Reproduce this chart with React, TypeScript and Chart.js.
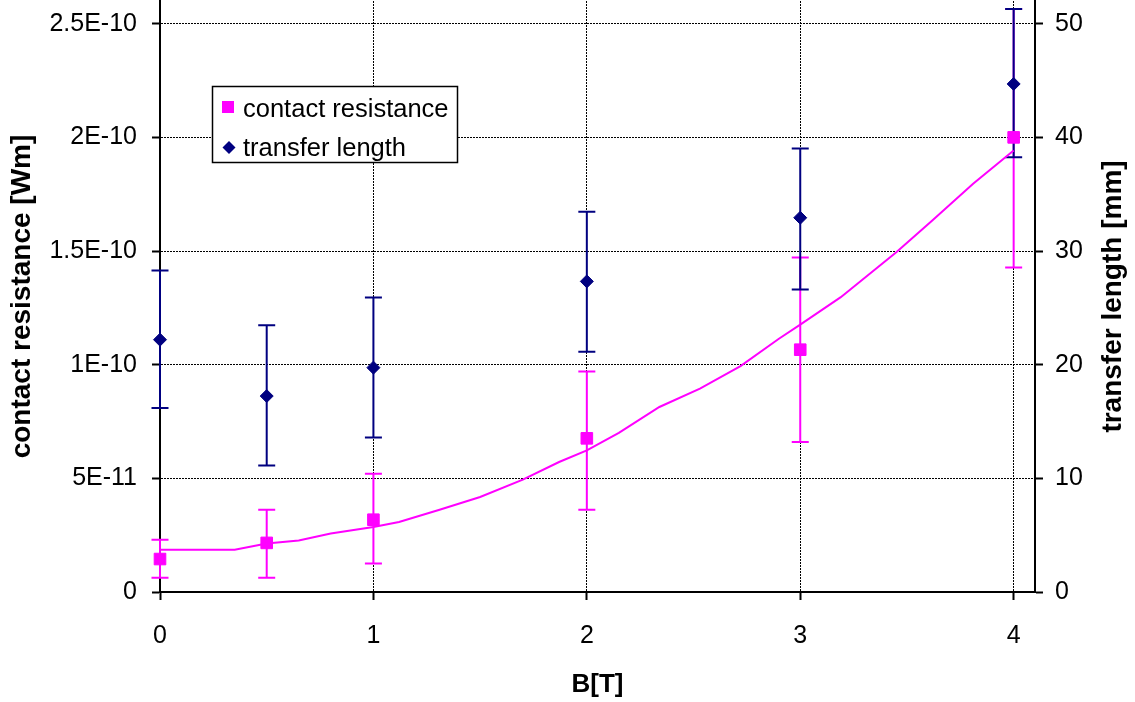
import React, { useEffect, useRef } from 'react';
import { Chart, registerables } from 'chart.js';

Chart.register(...registerables);

// ---- data ----
const bField = [0, 0.5, 1, 2, 3, 4];

const contactResistance = [1.45e-11, 2.16e-11, 3.18e-11, 6.76e-11, 1.066e-10, 2.0e-10];
const crErrPlus = [0.85e-11, 1.46e-11, 2.02e-11, 2.94e-11, 4.06e-11, 5.65e-11];
const crErrMinus = [0.82e-11, 1.53e-11, 1.93e-11, 3.14e-11, 4.06e-11, 5.72e-11];

const transferLength = [22.2, 17.24, 19.74, 27.33, 32.93, 44.7];
const tlErrPlus = [6.09, 6.22, 6.18, 6.13, 6.09, 6.6];
const tlErrMinus = [6.0, 6.12, 6.14, 6.19, 6.31, 6.44];

const fitB = [0, 0.35, 0.5, 0.65, 0.8, 1.0, 1.12, 1.31, 1.5, 1.7, 1.87, 2.0, 2.15, 2.34, 2.53, 2.72, 2.9, 3.0, 3.19, 3.45, 3.62, 3.81, 4.0];
const fitResistance = [
  1.86e-11, 1.86e-11, 2.13e-11, 2.27e-11, 2.57e-11, 2.86e-11, 3.08e-11, 3.62e-11, 4.18e-11, 4.94e-11,
  5.72e-11, 6.23e-11, 7.0e-11, 8.14e-11, 8.95e-11, 9.94e-11, 11.14e-11, 11.76e-11, 12.97e-11,
  14.95e-11, 16.35e-11, 17.96e-11, 19.42e-11,
];

const xTickValues = [0, 1, 2, 3, 4];
const xTickLabels = ['0', '1', '2', '3', '4'];
const leftTickValues = [0, 5e-11, 1e-10, 1.5e-10, 2e-10, 2.5e-10];
const leftTickLabels = ['0', '5E-11', '1E-10', '1.5E-10', '2E-10', '2.5E-10'];
const rightTickValues = [0, 10, 20, 30, 40, 50];
const rightTickLabels = ['0', '10', '20', '30', '40', '50'];

const seriesNames = ['contact resistance', 'transfer length'];
const xTitle = 'B[T]';
const leftTitle = 'contact resistance [Wm]';
const rightTitle = 'transfer length [mm]';

// ---- styles ----
const MAGENTA = '#FF00FF';
const NAVY = '#000080';
const FONT = '"Liberation Sans", Arial, sans-serif';

const errorBarPlugin = {
  id: 'errorBars',
  beforeDatasetsDraw(chart: any) {
    const { ctx } = chart;
    const xs = chart.scales.x;
    const draw = (vals: number[], plus: number[], minus: number[], scale: any, color: string) => {
      ctx.save();
      ctx.strokeStyle = color;
      ctx.lineWidth = 2;
      bField.forEach((b, i) => {
        const px = xs.getPixelForValue(b);
        const top = scale.getPixelForValue(vals[i] + plus[i]);
        const bot = scale.getPixelForValue(vals[i] - minus[i]);
        ctx.beginPath();
        ctx.moveTo(px, top);
        ctx.lineTo(px, bot);
        ctx.moveTo(px - 8.5, top);
        ctx.lineTo(px + 8.5, top);
        ctx.moveTo(px - 8.5, bot);
        ctx.lineTo(px + 8.5, bot);
        ctx.stroke();
      });
      ctx.restore();
    };
    draw(contactResistance, crErrPlus, crErrMinus, chart.scales.y, MAGENTA);
    draw(transferLength, tlErrPlus, tlErrMinus, chart.scales.y1, NAVY);
  },
};

const overlayPlugin = {
  id: 'overlay',
  afterDraw(chart: any) {
    const { ctx, chartArea } = chart;
    ctx.save();
    // right axis title (reads bottom to top)
    ctx.font = `bold 28px ${FONT}`;
    ctx.fillStyle = '#000';
    ctx.textAlign = 'center';
    ctx.textBaseline = 'middle';
    ctx.translate(1113, (chartArea.top + chartArea.bottom) / 2);
    ctx.rotate(-Math.PI / 2);
    ctx.fillText(rightTitle, 0, 0);
    ctx.restore();

    // legend
    ctx.save();
    ctx.fillStyle = '#fff';
    ctx.fillRect(212.5, 86.5, 245, 76);
    ctx.strokeStyle = '#000';
    ctx.lineWidth = 1.5;
    ctx.strokeRect(212.5, 86.5, 245, 76);
    ctx.fillStyle = MAGENTA;
    ctx.fillRect(222, 101, 12, 12);
    ctx.fillStyle = NAVY;
    ctx.beginPath();
    ctx.moveTo(229, 141);
    ctx.lineTo(235.5, 147.5);
    ctx.lineTo(229, 154);
    ctx.lineTo(222.5, 147.5);
    ctx.closePath();
    ctx.fill();
    ctx.fillStyle = '#000';
    ctx.font = `25.5px ${FONT}`;
    ctx.textAlign = 'left';
    ctx.textBaseline = 'middle';
    ctx.fillText(seriesNames[0], 243, 110);
    ctx.fillText(seriesNames[1], 243, 149);
    ctx.restore();
  },
};

export default function App() {
  const ref = useRef<HTMLCanvasElement>(null);

  useEffect(() => {
    const tickFont = { family: FONT, size: 25 };
    const gridCommon = {
      color: '#000',
      lineWidth: 1,
      tickLength: 8,
      tickColor: '#000',
      tickWidth: 2,
      tickBorderDash: [],
    };
    const zeroPad = (s: any) => {
      s.paddingTop = 0;
      s.paddingBottom = 0;
      s.paddingLeft = 0;
      s.paddingRight = 0;
    };
    const chart = new Chart(ref.current as HTMLCanvasElement, {
      type: 'scatter',
      data: {
        datasets: [
          {
            label: seriesNames[1],
            data: bField.map((b, i) => ({ x: b, y: transferLength[i] })),
            yAxisID: 'y1',
            pointStyle: 'rectRot',
            pointRadius: 6.5,
            borderWidth: 1,
            backgroundColor: NAVY,
            borderColor: NAVY,
            showLine: false,
            clip: false,
          },
          {
            label: seriesNames[0],
            data: bField.map((b, i) => ({ x: b, y: contactResistance[i] })),
            yAxisID: 'y',
            pointStyle: 'rect',
            pointRadius: 8.2,
            borderWidth: 1,
            backgroundColor: MAGENTA,
            borderColor: MAGENTA,
            showLine: false,
            clip: false,
          },
          {
            label: 'fit',
            data: fitB.map((b, i) => ({ x: b, y: fitResistance[i] })),
            yAxisID: 'y',
            showLine: true,
            pointRadius: 0,
            borderWidth: 2,
            borderColor: MAGENTA,
            backgroundColor: MAGENTA,
            tension: 0,
            clip: false,
          },
        ],
      },
      options: {
        responsive: false,
        animation: false,
        devicePixelRatio: 1,
        events: [],
        layout: { autoPadding: false, padding: { top: 1, left: 0, right: 0, bottom: 0 } },
        plugins: {
          legend: { display: false },
          tooltip: { enabled: false },
        },
        scales: {
          x: {
            type: 'linear',
            position: 'bottom',
            min: 0,
            max: 4.1,
            afterFit: (s: any) => { s.height = 110; zeroPad(s); },
            afterBuildTicks: (s: any) => { s.ticks = xTickValues.map((v) => ({ value: v })); },
            ticks: {
              callback: (_v: any, i: number) => xTickLabels[i],
              font: tickFont,
              color: '#000',
              padding: 21,
              maxRotation: 0,
              autoSkip: false,
            },
            grid: gridCommon,
            border: { display: true, color: '#000', width: 2, dash: [2, 1] },
            title: {
              display: true,
              text: xTitle,
              color: '#000',
              font: { family: FONT, size: 26, weight: 'bold' },
              padding: { top: 0, bottom: 2 },
            },
          },
          y: {
            type: 'linear',
            position: 'left',
            min: 0,
            max: 2.6e-10,
            afterFit: (s: any) => { s.width = 160; zeroPad(s); },
            afterBuildTicks: (s: any) => { s.ticks = leftTickValues.map((v) => ({ value: v })); },
            ticks: {
              callback: (_v: any, i: number) => leftTickLabels[i],
              font: tickFont,
              color: '#000',
              padding: 15,
              autoSkip: false,
            },
            grid: gridCommon,
            border: { display: true, color: '#000', width: 2, dash: [2, 1] },
            title: {
              display: true,
              text: leftTitle,
              color: '#000',
              font: { family: FONT, size: 28, weight: 'bold' },
              padding: { top: 5, bottom: 0 },
            },
          },
          y1: {
            type: 'linear',
            position: 'right',
            min: 0,
            max: 52,
            afterFit: (s: any) => { s.width = 100; zeroPad(s); },
            afterBuildTicks: (s: any) => { s.ticks = rightTickValues.map((v) => ({ value: v })); },
            ticks: {
              callback: (_v: any, i: number) => rightTickLabels[i],
              font: tickFont,
              color: '#000',
              padding: 12,
              autoSkip: false,
            },
            grid: { ...gridCommon, drawOnChartArea: false },
            border: { display: true, color: '#000', width: 2 },
          },
        },
      } as any,
      plugins: [errorBarPlugin, overlayPlugin],
    });
    return () => chart.destroy();
  }, []);

  return (
    <div style={{ position: 'absolute', left: 0, top: 0, width: 1135, height: 702, background: '#fff' }}>
      <canvas ref={ref} width={1135} height={702} style={{ width: 1135, height: 702, display: 'block' }} />
    </div>
  );
}
